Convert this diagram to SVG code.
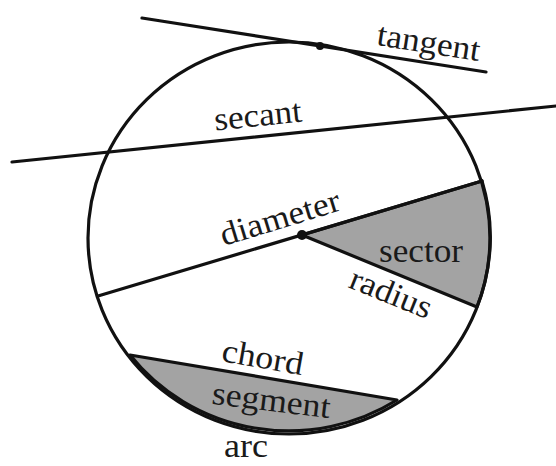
<svg xmlns="http://www.w3.org/2000/svg" width="556" height="466" viewBox="0 0 556 466">
<style>
.ln{stroke:#111;stroke-width:3.2;fill:none;stroke-linecap:round}
.sh{fill:#a3a3a3;stroke:#111;stroke-width:3.2;stroke-linejoin:round}
.lb{font-family:"Liberation Serif","Times New Roman",serif;font-size:33px;fill:#1a1a1a;text-anchor:middle}
</style>
<rect width="556" height="466" fill="#fff"/>
<g id="sector"><path class="sh" d="M302 235 L482 181 A201 196 0 0 1 477 307 Z"/></g>
<g id="segment"><path class="sh" d="M130 355 L397 400 A201 196 0 0 1 130 355 Z"/></g>
<g id="circle"><ellipse class="ln" cx="289" cy="238" rx="201" ry="196"/></g>
<g id="connectors">
<line class="ln" x1="142" y1="18" x2="486" y2="72"/>
<line class="ln" x1="12" y1="162" x2="556" y2="106"/>
<line class="ln" x1="98" y1="296" x2="482" y2="181"/>
</g>
<g id="points">
<circle cx="320" cy="46" r="4" fill="#111"/>
<circle cx="302" cy="235" r="5" fill="#111"/>
</g>
<g id="labels">
<text class="lb" transform="translate(427,53) rotate(9)" textLength="104" lengthAdjust="spacingAndGlyphs">tangent</text>
<text class="lb" transform="translate(259,126) rotate(-6)" textLength="88" lengthAdjust="spacingAndGlyphs">secant</text>
<text class="lb" transform="translate(283,228) rotate(-17)" textLength="124" lengthAdjust="spacingAndGlyphs">diameter</text>
<text class="lb" x="421" y="262" textLength="84" lengthAdjust="spacingAndGlyphs">sector</text>
<text class="lb" transform="translate(387,303) rotate(22)" textLength="86" lengthAdjust="spacingAndGlyphs">radius</text>
<text class="lb" transform="translate(261,368) rotate(10)" textLength="82" lengthAdjust="spacingAndGlyphs">chord</text>
<text class="lb" transform="translate(270,411) rotate(7)" textLength="119" lengthAdjust="spacingAndGlyphs">segment</text>
<text class="lb" x="246" y="457" textLength="44" lengthAdjust="spacingAndGlyphs">arc</text>
</g>
</svg>
